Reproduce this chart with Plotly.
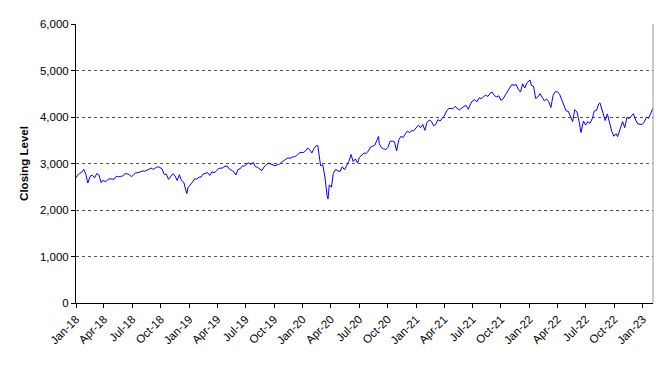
import plotly.graph_objects as go

dates = [
 "2018-01-02","2018-01-05","2018-01-12","2018-01-19","2018-01-26","2018-02-02","2018-02-08","2018-02-16","2018-02-23","2018-03-02","2018-03-09","2018-03-16","2018-03-23","2018-03-29","2018-04-06","2018-04-13","2018-04-20","2018-04-27","2018-05-04","2018-05-11","2018-05-18","2018-05-25","2018-06-01","2018-06-08","2018-06-15","2018-06-22","2018-06-29","2018-07-06","2018-07-13","2018-07-20","2018-07-27","2018-08-03","2018-08-10","2018-08-17","2018-08-24","2018-08-31","2018-09-07","2018-09-14","2018-09-21","2018-09-28","2018-10-05","2018-10-12","2018-10-19","2018-10-26","2018-11-02","2018-11-09","2018-11-16","2018-11-23","2018-11-30","2018-12-07","2018-12-14","2018-12-21","2018-12-24","2018-12-28",
 "2019-01-04","2019-01-11","2019-01-18","2019-01-25","2019-02-01","2019-02-08","2019-02-15","2019-02-22","2019-03-01","2019-03-08","2019-03-15","2019-03-22","2019-03-29","2019-04-05","2019-04-12","2019-04-18","2019-04-26","2019-05-03","2019-05-10","2019-05-17","2019-05-24","2019-05-31","2019-06-07","2019-06-14","2019-06-21","2019-06-28","2019-07-05","2019-07-12","2019-07-19","2019-07-26","2019-08-02","2019-08-09","2019-08-16","2019-08-23","2019-08-30","2019-09-06","2019-09-13","2019-09-20","2019-09-27","2019-10-04","2019-10-11","2019-10-18","2019-10-25","2019-11-01","2019-11-08","2019-11-15","2019-11-22","2019-11-29","2019-12-06","2019-12-13","2019-12-20","2019-12-27",
 "2020-01-03","2020-01-10","2020-01-17","2020-01-24","2020-01-31","2020-02-07","2020-02-14","2020-02-19","2020-02-28","2020-03-06","2020-03-13","2020-03-20","2020-03-23","2020-03-27","2020-04-03","2020-04-09","2020-04-17","2020-04-24","2020-05-01","2020-05-08","2020-05-15","2020-05-22","2020-05-29","2020-06-05","2020-06-12","2020-06-19","2020-06-26","2020-07-02","2020-07-10","2020-07-17","2020-07-24","2020-07-31","2020-08-07","2020-08-14","2020-08-21","2020-08-28","2020-09-02","2020-09-04","2020-09-11","2020-09-18","2020-09-25","2020-10-02","2020-10-09","2020-10-16","2020-10-23","2020-10-30","2020-11-06","2020-11-13","2020-11-20","2020-11-27","2020-12-04","2020-12-11","2020-12-18","2020-12-24","2020-12-31",
 "2021-01-08","2021-01-15","2021-01-22","2021-01-29","2021-02-05","2021-02-12","2021-02-19","2021-02-26","2021-03-05","2021-03-12","2021-03-19","2021-03-26","2021-04-01","2021-04-09","2021-04-16","2021-04-23","2021-04-30","2021-05-07","2021-05-14","2021-05-21","2021-05-28","2021-06-04","2021-06-11","2021-06-18","2021-06-25","2021-07-02","2021-07-09","2021-07-16","2021-07-23","2021-07-30","2021-08-06","2021-08-13","2021-08-20","2021-08-27","2021-09-03","2021-09-10","2021-09-17","2021-09-24","2021-10-01","2021-10-08","2021-10-15","2021-10-22","2021-10-29","2021-11-05","2021-11-12","2021-11-19","2021-11-26","2021-12-03","2021-12-10","2021-12-17","2021-12-23","2021-12-31",
 "2022-01-03","2022-01-07","2022-01-14","2022-01-21","2022-01-28","2022-02-04","2022-02-11","2022-02-18","2022-02-25","2022-03-04","2022-03-11","2022-03-18","2022-03-25","2022-04-01","2022-04-08","2022-04-14","2022-04-22","2022-04-29","2022-05-06","2022-05-13","2022-05-20","2022-05-27","2022-06-03","2022-06-10","2022-06-16","2022-06-24","2022-07-01","2022-07-08","2022-07-15","2022-07-22","2022-07-29","2022-08-05","2022-08-12","2022-08-16","2022-08-26","2022-09-02","2022-09-09","2022-09-16","2022-09-23","2022-09-30","2022-10-07","2022-10-12","2022-10-21","2022-10-28","2022-11-04","2022-11-11","2022-11-18","2022-11-25","2022-12-02","2022-12-09","2022-12-16","2022-12-23","2022-12-30",
 "2023-01-06","2023-01-13","2023-01-20","2023-01-27","2023-02-02"]

closes = [
 2695,2743,2786,2810,2873,2762,2581,2732,2747,2691,2786,2752,2588,2641,2604,2656,2670,2670,2663,2728,2713,2721,2735,2779,2780,2755,2718,2760,2801,2802,2819,2840,2833,2850,2875,2902,2872,2905,2930,2914,2886,2767,2768,2659,2723,2781,2736,2633,2760,2633,2600,2417,2351,2486,
 2532,2596,2671,2665,2707,2708,2776,2793,2804,2743,2822,2800,2834,2893,2907,2905,2940,2946,2881,2860,2826,2752,2873,2887,2950,2942,2990,3014,2977,3026,2932,2919,2889,2847,2926,2979,3007,2992,2962,2952,2970,2986,3023,3067,3093,3120,3110,3141,3146,3169,3221,3240,
 3235,3265,3330,3295,3226,3328,3380,3386,2954,2972,2711,2305,2237,2541,2489,2790,2875,2837,2831,2930,2864,2955,3044,3194,3041,3098,3009,3130,3185,3225,3216,3271,3351,3373,3397,3508,3580,3427,3341,3319,3298,3348,3477,3483,3465,3270,3510,3585,3558,3638,3699,3663,3709,3703,3756,
 3825,3768,3841,3714,3887,3934,3907,3811,3842,3943,3913,3975,4020,4129,4185,4180,4181,4233,4174,4156,4204,4230,4247,4166,4281,4352,4370,4327,4412,4395,4437,4468,4442,4509,4535,4459,4433,4455,4357,4391,4471,4545,4605,4697,4683,4698,4595,4538,4712,4621,4725,4766,
 4797,4677,4663,4398,4432,4501,4419,4349,4385,4329,4204,4463,4543,4546,4488,4393,4272,4132,4123,4023,3901,4158,4109,3901,3667,3912,3825,3899,3863,3962,4130,4145,4280,4305,4058,3924,4067,3873,3693,3586,3640,3577,3753,3901,3771,3993,3965,4026,4072,3934,3852,3845,3840,
 3895,3999,3973,4071,4179]

ytick_vals = [0, 1000, 2000, 3000, 4000, 5000, 6000]

fig = go.Figure()
fig.add_trace(go.Scatter(x=dates, y=closes, mode="lines",
                         line=dict(color="#0000FF", width=1), showlegend=False))

fig.update_layout(
    width=655, height=358,
    margin=dict(l=68, r=10, t=16, b=63),
    paper_bgcolor="white", plot_bgcolor="white",
    font=dict(family="Liberation Sans, Arial, sans-serif", size=11, color="black"),
)
fig.update_xaxes(
    type="date", range=["2018-01-01", "2023-02-03"],
    tick0="2018-01-01", dtick="M3", tickformat="%b-%y", tickangle=-45,
    ticks="outside", ticklen=4, tickcolor="black",
    showline=True, linecolor="black", linewidth=1,
    showgrid=False, zeroline=False,
    tickfont=dict(size=11.5),
)
fig.update_yaxes(
    range=[0, 6000], tickvals=ytick_vals, tickformat=",",
    ticks="outside", ticklen=4, tickcolor="black",
    showline=True, linecolor="black", linewidth=1,
    showgrid=True, gridcolor="#555555", griddash="dot", gridwidth=1,
    zeroline=False, tickfont=dict(size=11.5),
    title=dict(text="<b>Closing Level</b>", font=dict(size=11.5), standoff=8),
)
fig.add_shape(type="line", xref="paper", yref="paper", x0=1, x1=1, y0=0, y1=1,
              line=dict(color="#999999", width=1))
fig.write_html("out.html")
